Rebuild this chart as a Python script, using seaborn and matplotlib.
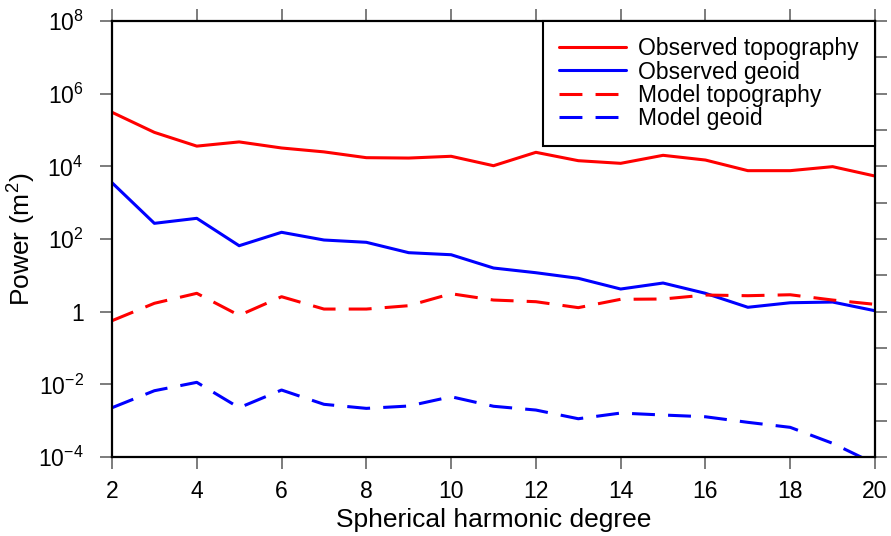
import numpy as np
import pandas as pd
import matplotlib
matplotlib.use("Agg")
import matplotlib.pyplot as plt
import seaborn as sns
from matplotlib.ticker import FixedLocator, FuncFormatter, NullFormatter

degrees = list(range(2, 21))
obs_topo = [3.07e5, 8.6e4, 3.6e4, 4.7e4, 3.2e4, 2.5e4, 1.73e4, 1.69e4, 1.89e4, 1.04e4,
            2.43e4, 1.43e4, 1.21e4, 2.01e4, 1.49e4, 7.6e3, 7.6e3, 9.8e3, 5.4e3]
obs_geoid = [3540, 270, 371, 65.3, 153, 93.8, 81.1, 42.0, 36.9, 15.9,
             11.8, 8.28, 4.20, 6.14, 3.20, 1.32, 1.76, 1.84, 1.06]
model_topo = [0.564, 1.70, 3.20, 0.79, 2.58, 1.18, 1.18, 1.46, 3.12, 2.09,
              1.88, 1.29, 2.19, 2.23, 2.87, 2.75, 2.92, 2.09, 1.59]
model_geoid = [2.27e-3, 6.67e-3, 1.135e-2, 2.27e-3, 6.97e-3, 2.82e-3, 2.18e-3, 2.53e-3, 4.56e-3, 2.49e-3,
               1.96e-3, 1.13e-3, 1.62e-3, 1.43e-3, 1.28e-3, 9.0e-4, 6.55e-4, 2.38e-4, 6.5e-5]
series_names = ["Observed topography", "Observed geoid", "Model topography", "Model geoid"]

frames = []
for name, vals in zip(series_names, [obs_topo, obs_geoid, model_topo, model_geoid]):
    frames.append(pd.DataFrame({"degree": degrees, "power": vals, "series": name}))
df = pd.concat(frames, ignore_index=True)

sns.set_theme(style="ticks")
plt.rcParams["font.family"] = ["Liberation Sans", "DejaVu Sans"]
plt.rcParams["mathtext.fontset"] = "custom"
plt.rcParams["mathtext.rm"] = "Liberation Sans"
plt.rcParams["mathtext.it"] = "Liberation Sans:italic"
plt.rcParams["mathtext.bf"] = "Liberation Sans:bold"
plt.rcParams["text.color"] = "black"
plt.rcParams["axes.labelcolor"] = "black"

fig = plt.figure(figsize=(8.91, 5.36), dpi=100)
ax = fig.add_axes([112/891, 1-457/536, (875-112)/891, (457-21)/536])

palette = {"Observed topography": "#ff0000", "Observed geoid": "#0000ff",
           "Model topography": "#ff0000", "Model geoid": "#0000ff"}
dashes = {"Observed topography": "", "Observed geoid": "",
          "Model topography": (7.5, 4.3), "Model geoid": (7.5, 4.3)}
sns.lineplot(data=df, x="degree", y="power", hue="series", style="series",
             palette=palette, dashes=dashes, hue_order=series_names, style_order=series_names,
             linewidth=2.2, ax=ax, legend=True)

ax.set_yscale("log")
ax.set_xlim(2, 20)
ax.set_ylim(1e-4, 1e8)

major_y = [10.0**k for k in range(-4, 9, 2)]
minor_y = [10.0**k for k in range(-3, 8, 2)]
ax.yaxis.set_major_locator(FixedLocator(major_y))
ax.yaxis.set_minor_locator(FixedLocator(minor_y))
def yfmt(v, pos):
    k = int(round(np.log10(v)))
    if k == 0:
        return "1"
    return r"$10^{%d}$" % k
ax.yaxis.set_major_formatter(FuncFormatter(yfmt))
ax.yaxis.set_minor_formatter(NullFormatter())
ax.xaxis.set_major_locator(FixedLocator(list(range(2, 21, 2))))

ax.tick_params(axis="both", which="major", direction="out", length=8.5, width=1.2,
               color="#666666", labelcolor="black", labelsize=16.5, top=True, right=True,
               labeltop=False, labelright=False)
ax.tick_params(axis="x", which="major", pad=8)
ax.tick_params(axis="y", which="major", pad=12)
ax.tick_params(axis="y", which="minor", direction="out", length=8.5, width=1.2,
               color="#666666", left=False, right=True)
for s in ax.spines.values():
    s.set_visible(True)
    s.set_linewidth(1.6)
    s.set_color("black")

ax.set_xlabel("Spherical harmonic degree", fontsize=19, labelpad=4)
ax.set_ylabel("Power (m$^2$)", fontsize=19, labelpad=0)

leg = ax.legend(loc="upper right", fontsize=16.5, frameon=True, fancybox=False,
                borderaxespad=0, handlelength=2.9, handletextpad=0.55,
                labelspacing=0.02, borderpad=0.7, title=None)
leg.get_frame().set_edgecolor("black")
leg.get_frame().set_linewidth(1.5)
leg.get_frame().set_alpha(1)
for line in leg.get_lines():
    line.set_linewidth(2.2)
for t in leg.get_texts():
    t.set_color("black")

fig.savefig("out.png", dpi=100)
